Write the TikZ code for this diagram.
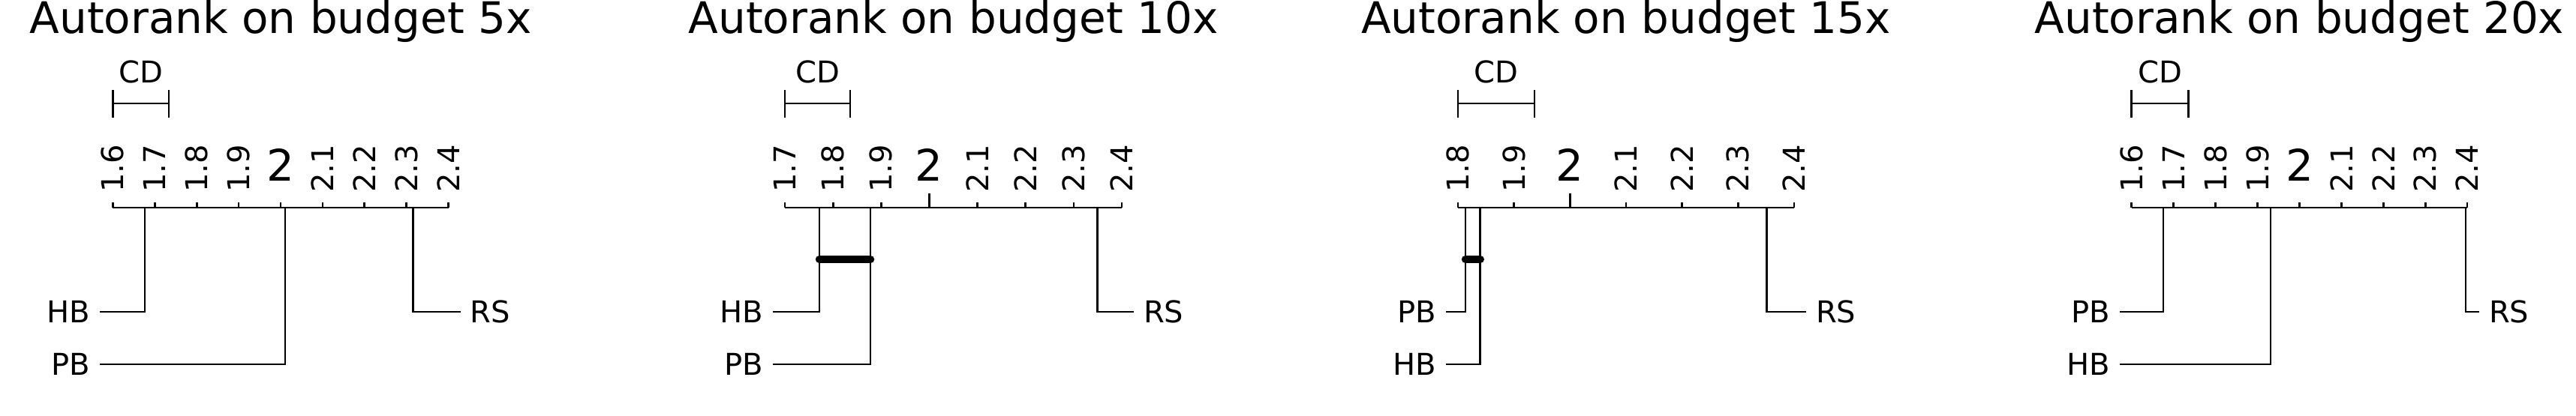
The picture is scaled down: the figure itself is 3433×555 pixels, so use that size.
\documentclass[tikz,border=0pt]{standalone}
\usepackage{fontspec}
\setmainfont{DejaVu Sans}
\usetikzlibrary{positioning}
\begin{document}
\begin{tikzpicture}[x=0.1mm, y=-0.1mm, inner sep=0pt, outer sep=0pt,
  ln/.style={draw=black, line width=0.28mm},
  clique/.style={draw=black, line width=1.05mm, line cap=round},
  ttl/.style={anchor=base, font=\fontsize{16.5pt}{19pt}\selectfont},
  ticklab/.style={anchor=west, rotate=90, font=\fontsize{11.4pt}{13pt}\selectfont},
  bigtwo/.style={anchor=base, font=\fontsize{16.5pt}{19pt}\selectfont},
  lab/.style={inner xsep=1.3mm, font=\fontsize{11.4pt}{13pt}\selectfont}]
\useasboundingbox (0,0) rectangle (3433,555);
\node[ttl] (ttl5) at (374,44.5) {Autorank on budget 5x};
\draw[ln] (150.3,120) -- (150.3,157) (150.3,138) -- (225,138) (225,120) -- (225,157);
\node[lab, anchor=base] (cd5) at (187.6,110.5) {CD};
\coordinate (ax5l) at (150.3,277);
\coordinate (ax5r) at (597.6,277);
\draw[ln] (ax5l) -- (ax5r);
\draw[ln] (150.3,270) -- (150.3,277); \node[ticklab] (t5a) at (150.3,257) {1.6};
\draw[ln] (206.2,270) -- (206.2,277); \node[ticklab] (t5b) at (206.2,257) {1.7};
\draw[ln] (262.1,270) -- (262.1,277); \node[ticklab] (t5c) at (262.1,257) {1.8};
\draw[ln] (318.0,270) -- (318.0,277); \node[ticklab] (t5d) at (318.0,257) {1.9};
\draw[ln] (373.9,270) -- (373.9,277); \node[bigtwo] (t5e) at (373.9,241.7) {2};
\draw[ln] (429.9,270) -- (429.9,277); \node[ticklab] (t5f) at (429.9,257) {2.1};
\draw[ln] (485.8,270) -- (485.8,277); \node[ticklab] (t5g) at (485.8,257) {2.2};
\draw[ln] (541.7,270) -- (541.7,277); \node[ticklab] (t5h) at (541.7,257) {2.3};
\draw[ln] (597.6,270) -- (597.6,277); \node[ticklab] (t5i) at (597.6,257) {2.4};
\coordinate (r5hb) at (193,277);
\coordinate (r5pb) at (380,277);
\coordinate (r5rs) at (550.5,277);
\node[lab, anchor=east] (hb5) at (133.3,416) {HB};
\node[lab, anchor=east] (pb5) at (133.3,486) {PB};
\node[lab, anchor=west] (rs5) at (613.7,416) {RS};
\draw[ln] (r5hb) |- (hb5);
\draw[ln] (r5pb) |- (pb5);
\draw[ln] (r5rs) |- (rs5);
\node[ttl] (ttl10) at (1270.5,44.5) {Autorank on budget 10x};
\draw[ln] (1046,120) -- (1046,157) (1046,138) -- (1133,138) (1133,120) -- (1133,157);
\node[lab, anchor=base] (cd10) at (1089.5,110.5) {CD};
\coordinate (ax10l) at (1046,277);
\coordinate (ax10r) at (1495,277);
\draw[ln] (ax10l) -- (ax10r);
\draw[ln] (1046,270) -- (1046,277); \node[ticklab] (t10a) at (1046,257) {1.7};
\draw[ln] (1110.1,270) -- (1110.1,277); \node[ticklab] (t10b) at (1110.1,257) {1.8};
\draw[ln] (1174.3,270) -- (1174.3,277); \node[ticklab] (t10c) at (1174.3,257) {1.9};
\draw[ln] (1238.4,258) -- (1238.4,277); \node[bigtwo] (t10d) at (1238.4,241.7) {2};
\draw[ln] (1302.6,270) -- (1302.6,277); \node[ticklab] (t10e) at (1302.6,257) {2.1};
\draw[ln] (1366.7,270) -- (1366.7,277); \node[ticklab] (t10f) at (1366.7,257) {2.2};
\draw[ln] (1430.9,270) -- (1430.9,277); \node[ticklab] (t10g) at (1430.9,257) {2.3};
\draw[ln] (1495,270) -- (1495,277); \node[ticklab] (t10h) at (1495,257) {2.4};
\coordinate (r10hb) at (1092,277);
\coordinate (r10pb) at (1160,277);
\coordinate (r10rs) at (1462.5,277);
\node[lab, anchor=east] (hb10) at (1030,416) {HB};
\node[lab, anchor=east] (pb10) at (1030,486) {PB};
\node[lab, anchor=west] (rs10) at (1511,416) {RS};
\draw[ln] (r10hb) |- (hb10);
\draw[ln] (r10pb) |- (pb10);
\draw[ln] (r10rs) |- (rs10);
\coordinate (c10a) at (1092,346);
\coordinate (c10b) at (1160,346);
\draw[clique] (c10a) -- (c10b);
\node[ttl] (ttl15) at (2167,44.5) {Autorank on budget 15x};
\draw[ln] (1943,120) -- (1943,157) (1943,138) -- (2045,138) (2045,120) -- (2045,157);
\node[lab, anchor=base] (cd15) at (1994,110.5) {CD};
\coordinate (ax15l) at (1943,277);
\coordinate (ax15r) at (2391,277);
\draw[ln] (ax15l) -- (ax15r);
\draw[ln] (1943,270) -- (1943,277); \node[ticklab] (t15a) at (1943,257) {1.8};
\draw[ln] (2017.7,270) -- (2017.7,277); \node[ticklab] (t15b) at (2017.7,257) {1.9};
\draw[ln] (2092.3,258) -- (2092.3,277); \node[bigtwo] (t15c) at (2092.3,241.7) {2};
\draw[ln] (2167,270) -- (2167,277); \node[ticklab] (t15d) at (2167,257) {2.1};
\draw[ln] (2241.7,270) -- (2241.7,277); \node[ticklab] (t15e) at (2241.7,257) {2.2};
\draw[ln] (2316.3,270) -- (2316.3,277); \node[ticklab] (t15f) at (2316.3,257) {2.3};
\draw[ln] (2391,270) -- (2391,277); \node[ticklab] (t15g) at (2391,257) {2.4};
\coordinate (r15pb) at (1953,277);
\coordinate (r15hb) at (1972.7,277);
\coordinate (r15rs) at (2354.7,277);
\node[lab, anchor=east] (pb15) at (1927,416) {PB};
\node[lab, anchor=east] (hb15) at (1927,486) {HB};
\node[lab, anchor=west] (rs15) at (2407,416) {RS};
\draw[ln] (r15pb) |- (pb15);
\draw[ln] (r15hb) |- (hb15);
\draw[ln] (r15rs) |- (rs15);
\coordinate (c15a) at (1953,346);
\coordinate (c15b) at (1972.7,346);
\draw[clique] (c15a) -- (c15b);
\node[ttl] (ttl20) at (3064.4,44.5) {Autorank on budget 20x};
\draw[ln] (2840.8,120) -- (2840.8,157) (2840.8,138) -- (2916.5,138) (2916.5,120) -- (2916.5,157);
\node[lab, anchor=base] (cd20) at (2878.6,110.5) {CD};
\coordinate (ax20l) at (2840.8,277);
\coordinate (ax20r) at (3288,277);
\draw[ln] (ax20l) -- (ax20r);
\draw[ln] (2840.8,270) -- (2840.8,277); \node[ticklab] (t20a) at (2840.8,257) {1.6};
\draw[ln] (2896.7,270) -- (2896.7,277); \node[ticklab] (t20b) at (2896.7,257) {1.7};
\draw[ln] (2952.6,270) -- (2952.6,277); \node[ticklab] (t20c) at (2952.6,257) {1.8};
\draw[ln] (3008.5,270) -- (3008.5,277); \node[ticklab] (t20d) at (3008.5,257) {1.9};
\draw[ln] (3064.4,270) -- (3064.4,277); \node[bigtwo] (t20e) at (3064.4,241.7) {2};
\draw[ln] (3120.3,270) -- (3120.3,277); \node[ticklab] (t20f) at (3120.3,257) {2.1};
\draw[ln] (3176.2,270) -- (3176.2,277); \node[ticklab] (t20g) at (3176.2,257) {2.2};
\draw[ln] (3232.1,270) -- (3232.1,277); \node[ticklab] (t20h) at (3232.1,257) {2.3};
\draw[ln] (3288,270) -- (3288,277); \node[ticklab] (t20i) at (3288,257) {2.4};
\coordinate (r20pb) at (2883,277);
\coordinate (r20hb) at (3026,277);
\coordinate (r20rs) at (3286,277);
\node[lab, anchor=east] (pb20) at (2824.8,416) {PB};
\node[lab, anchor=east] (hb20) at (2824.8,486) {HB};
\node[lab, anchor=west] (rs20) at (3304,416) {RS};
\draw[ln] (r20pb) |- (pb20);
\draw[ln] (r20hb) |- (hb20);
\draw[ln] (r20rs) |- (rs20);
\end{tikzpicture}
\end{document}
